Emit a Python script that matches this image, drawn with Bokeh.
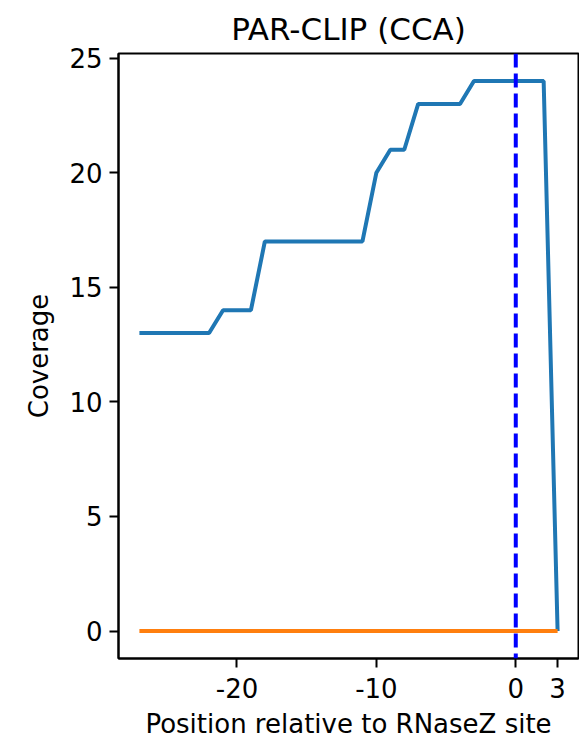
from bokeh.plotting import figure
from bokeh.models import Range1d, FixedTicker, Span
from bokeh.embed import file_html
from bokeh.resources import INLINE

# Data
positions = list(range(-27, 4))
coverage_blue = [13, 13, 13, 13, 13, 13,
                 14, 14, 14,
                 17, 17, 17, 17, 17, 17, 17, 17,
                 20,
                 21, 21,
                 23, 23, 23, 23,
                 24, 24, 24, 24, 24, 24,
                 0]
coverage_orange = [0] * len(positions)
x_ticks = [-20, -10, 0, 3]
y_ticks = [0, 5, 10, 15, 20, 25]
site_position = 0

FONT = "DejaVu Sans"

p = figure(width=579, height=741, output_backend="svg", toolbar_location=None,
           x_range=Range1d(-28.5, 4.5), y_range=Range1d(-1.2, 25.2),
           title="PAR-CLIP (CCA)",
           min_border_left=118, min_border_right=1, min_border_top=53, min_border_bottom=83)

p.line(positions, coverage_blue, line_color="#1f77b4", line_width=4)
p.line(positions, coverage_orange, line_color="#ff7f0e", line_width=4)
p.add_layout(Span(location=site_position, dimension="height", line_color="#0000ff",
                  line_width=4, line_dash="14 6"))

p.grid.visible = False
p.outline_line_color = "black"
p.outline_line_width = 2
p.background_fill_color = "white"
p.border_fill_color = "white"

p.title.text_font = FONT
p.title.text_font_size = "31px"
p.title.text_font_style = "normal"
p.title.align = "center"
p.title.text_color = "black"
p.title.standoff = 13

for ax in (p.xaxis[0], p.yaxis[0]):
    ax.axis_line_color = "black"
    ax.axis_line_width = 2
    ax.major_tick_line_color = "black"
    ax.major_tick_line_width = 2
    ax.major_tick_out = 9
    ax.major_tick_in = 0
    ax.minor_tick_line_color = None
    ax.major_label_text_font = FONT
    ax.major_label_text_font_size = "26px"
    ax.major_label_text_color = "black"
    ax.axis_label_text_font = FONT
    ax.axis_label_text_font_size = "26px"
    ax.axis_label_text_font_style = "normal"
    ax.axis_label_text_color = "black"

p.xaxis[0].ticker = FixedTicker(ticks=x_ticks)
p.xaxis[0].major_label_overrides = {t: str(t) for t in x_ticks}
p.yaxis[0].ticker = FixedTicker(ticks=y_ticks)
p.xaxis[0].axis_label = "Position relative to RNaseZ site"
p.yaxis[0].axis_label = "Coverage"
p.xaxis[0].major_label_standoff = 10
p.yaxis[0].major_label_standoff = 7
p.xaxis[0].axis_label_standoff = 8
p.yaxis[0].axis_label_standoff = 12

open("out.html", "w").write(file_html(p, INLINE))
